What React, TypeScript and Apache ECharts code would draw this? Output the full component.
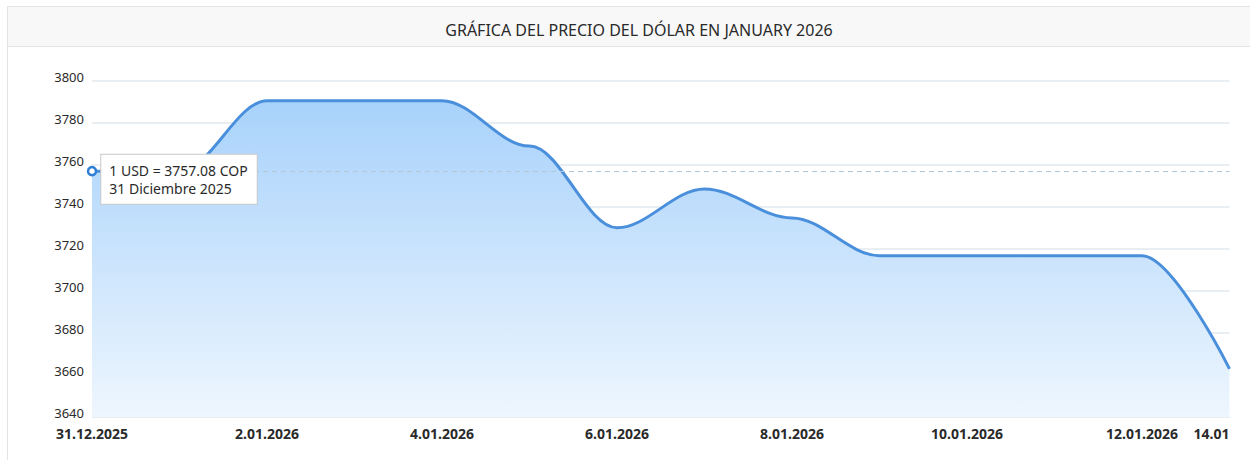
import React, { useEffect, useRef } from "react";
import * as echarts from "echarts";

const categories = [
  "31.12.2025", "1.01.2026", "2.01.2026", "3.01.2026", "4.01.2026", "5.01.2026", "6.01.2026",
  "7.01.2026", "8.01.2026", "9.01.2026", "10.01.2026", "11.01.2026", "12.01.2026", "13.01.2026",
];
const prices = [
  3757.08, 3757.08, 3790.6, 3790.6, 3790.6, 3769.0, 3730.1,
  3748.6, 3734.8, 3716.8, 3716.8, 3716.8, 3716.8, 3662.9,
];
const tickLabels = [
  "31.12.2025", "", "2.01.2026", "", "4.01.2026", "", "6.01.2026",
  "", "8.01.2026", "", "10.01.2026", "", "12.01.2026", "14.01",
];
const titleText = "GRÁFICA DEL PRECIO DEL DÓLAR EN JANUARY 2026";
const tipValue = 3757.08;
const tipLines = ["1 USD = 3757.08 COP", "31 Diciembre 2025"];

const FONT = "'Noto Sans', 'Open Sans', sans-serif";

export default function App() {
  const ref = useRef<HTMLDivElement>(null);
  useEffect(() => {
    if (!ref.current) return;
    const chart = echarts.init(ref.current, null, { renderer: "svg" });
    chart.setOption({
      animation: false,
      backgroundColor: "#ffffff",
      title: {
        text: titleText,
        left: 634,
        top: 17,
        textAlign: "center",
        textStyle: { fontFamily: FONT, fontSize: 16, fontWeight: "normal", color: "#2a2a2a" },
      },
      graphic: [
        {
          type: "rect",
          z: -10,
          shape: { x: 7.5, y: 6.5, width: 1260, height: 40 },
          style: { fill: "#f8f8f8", stroke: "#e4e4e4", lineWidth: 1 },
          silent: true,
        },
        {
          type: "line",
          z: -10,
          shape: { x1: 7.5, y1: 46, x2: 7.5, y2: 460 },
          style: { stroke: "#e4e4e4", lineWidth: 1 },
          silent: true,
        },
      ],
      grid: { left: 92, right: 20.5, top: 81, bottom: 43, containLabel: false },
      xAxis: {
        type: "category",
        data: categories,
        boundaryGap: false,
        axisLine: { show: false },
        axisTick: { show: false },
        splitLine: { show: false },
        axisLabel: {
          interval: 0,
          margin: 9,
          fontFamily: FONT,
          fontSize: 14,
          fontWeight: "bold",
          color: "#2a2a2a",
          alignMaxLabel: "right",
          formatter: (_v: string, i: number) => tickLabels[i],
        },
      },
      yAxis: {
        type: "value",
        min: 3640,
        max: 3800,
        interval: 20,
        axisLine: { show: false },
        axisTick: { show: false },
        splitLine: { lineStyle: { color: "#e9eef3", width: 2 } },
        axisLabel: {
          margin: 8,
          fontFamily: FONT,
          fontSize: 13,
          color: "#2a2a2a",
          verticalAlign: "bottom",
          lineHeight: 9,
          formatter: (v: number) => String(v),
        },
      },
      series: [
        {
          type: "line",
          data: prices,
          smooth: 0.35,
          smoothMonotone: "x",
          showSymbol: false,
          lineStyle: { color: "#4a8fdb", width: 3 },
          areaStyle: {
            opacity: 1,
            color: new echarts.graphic.LinearGradient(0, 0, 0, 1, [
              { offset: 0, color: "#a8d2fb" },
              { offset: 1, color: "#eef6fe" },
            ]),
          },
          markLine: {
            silent: true,
            symbol: "none",
            label: { show: false },
            lineStyle: { color: "#b3c5d8", type: [5, 4], width: 1 },
            data: [{ yAxis: tipValue }],
          },
          markPoint: {
            silent: true,
            symbol: "circle",
            symbolSize: 8,
            itemStyle: { color: "#ffffff", borderColor: "#2f7fd6", borderWidth: 2.5 },
            data: [
              {
                coord: [0, tipValue],
                label: {
                  show: true,
                  position: "right",
                  distance: 4,
                  offset: [0, 8],
                  backgroundColor: "#ffffff",
                  borderColor: "#c9c9c9",
                  borderWidth: 1,
                  padding: [7, 9, 6, 8],
                  fontFamily: FONT,
                  fontSize: 14,
                  lineHeight: 18,
                  color: "#2a2a2a",
                  align: "left",
                  formatter: tipLines.join("\n"),
                },
              },
            ],
          },
        },
      ],
    });
    return () => chart.dispose();
  }, []);
  return (
    <div
      ref={ref}
      style={{ position: "fixed", left: 0, top: 0, width: 1250, height: 460 }}
    />
  );
}
